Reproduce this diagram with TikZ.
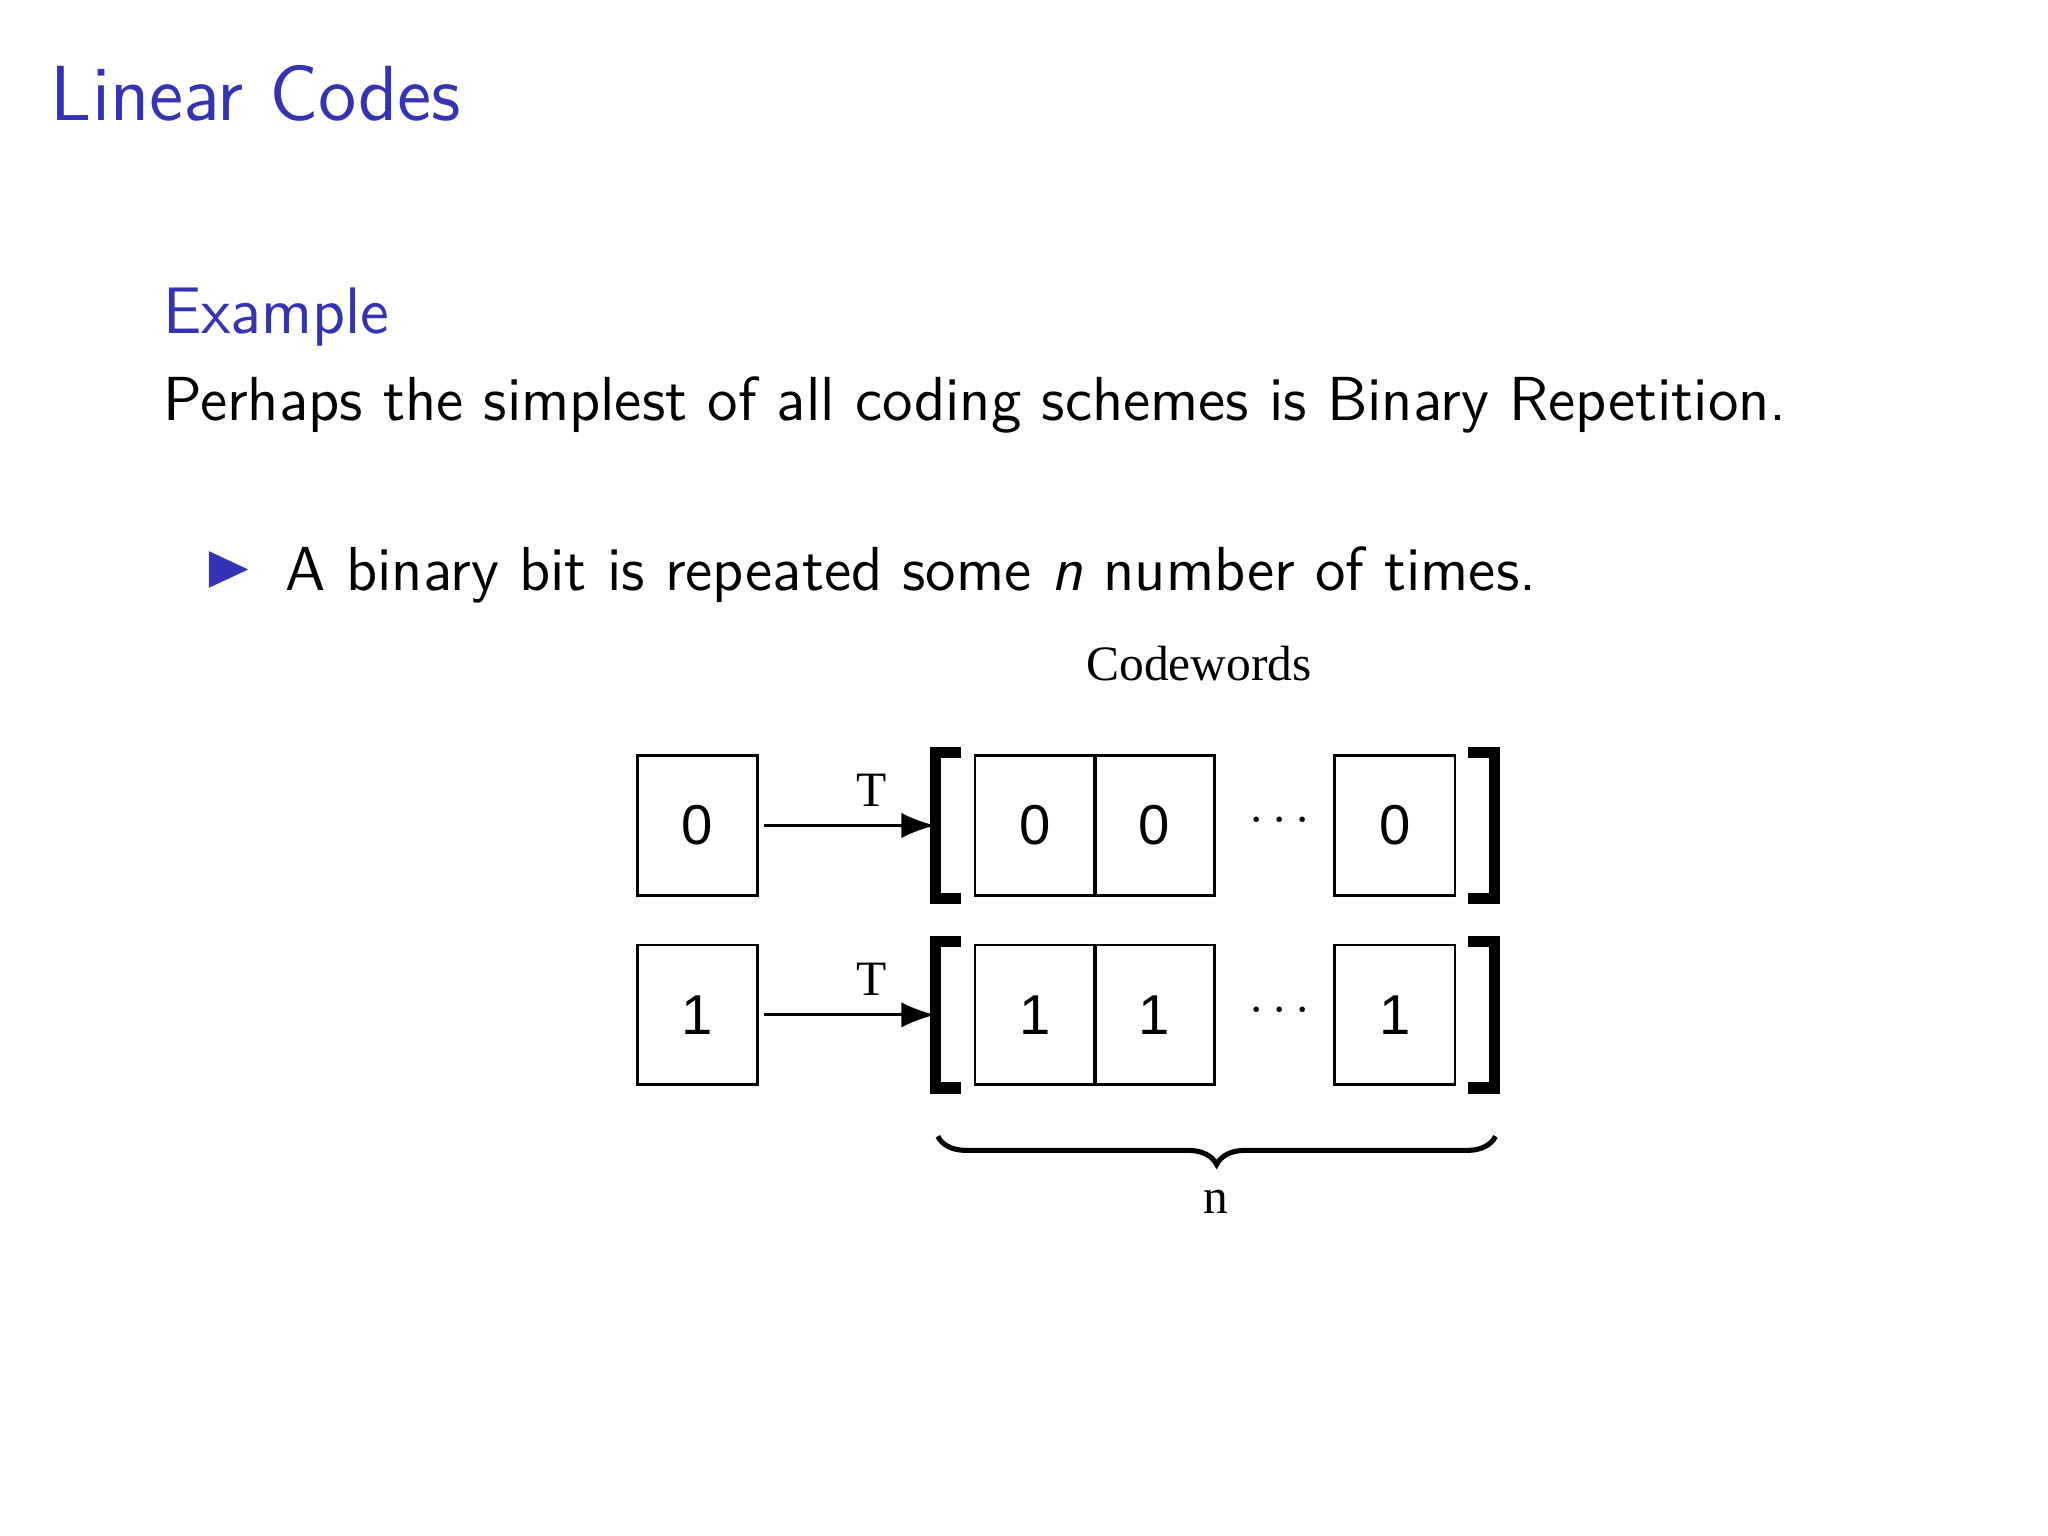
\documentclass[tikz,border=0pt]{standalone}
\usepackage{fontspec}
\usetikzlibrary{arrows.meta,decorations.pathreplacing}
\newfontfamily\serifTNR{Liberation Serif}
\newfontfamily\sansA{Liberation Sans}
\definecolor{bblue}{RGB}{51,51,179}
\tikzset{
 bit/.style={draw,line width=0.5pt,minimum width=92*0.008163cm,minimum height=107*0.008163cm,inner sep=0pt,font=\sansA\fontsize{10}{12}\selectfont},
 lbl/.style={font=\serifTNR\fontsize{8.8}{11}\selectfont,inner sep=0pt},
 brk/.style={line width=2pt},
 txt/.style={anchor=base west,inner sep=0pt,font=\sffamily\fontsize{11.06}{13}\selectfont}
}
\begin{document}
\begin{tikzpicture}[x=0.008163cm,y=-0.008163cm]
\useasboundingbox (0,0) rectangle (1568,1176);
\node[anchor=base west,inner sep=0pt,text=bblue,font=\sffamily\fontsize{13.9}{17}\selectfont] (title) at (38,92) {Linear Codes};
\node[txt,text=bblue,font=\sffamily\fontsize{11.7}{14}\selectfont] (ex) at (124,255) {Example};
\node[txt] (p) at (124,322) {Perhaps the simplest of all coding schemes is Binary Repetition.};
\fill[bblue] (160,422) -- (190,436) -- (160,450) -- cycle;
\node[txt] (b) at (218,452) {A binary bit is repeated some \textit{n} number of times.};
\node[lbl] (cw) at (918,508) {Codewords};
\foreach \r/\y/\d in {a/632/0,b/777/1}{
 \node[bit] (s\r) at (534,\y) {\d};
 \node[bit] (c1\r) at (792.5,\y) {\d};
 \node[bit] (c2\r) at (884,\y) {\d};
 \node[bit] (c3\r) at (1068,\y) {\d};
 \node[lbl] (dots\r) at (980,\y-3) {$\cdots$};
 \coordinate (la\r) at (716,\y-56);
 \coordinate (lb\r) at (716,\y+56);
 \coordinate (ra\r) at (1144,\y-56);
 \coordinate (rb\r) at (1144,\y+56);
 \draw[brk] ([xshift=20*0.008163cm]la\r) -- (la\r) -- (lb\r) -- ([xshift=20*0.008163cm]lb\r);
 \draw[brk] ([xshift=-20*0.008163cm]ra\r) -- (ra\r) -- (rb\r) -- ([xshift=-20*0.008163cm]rb\r);
 \draw[-{Latex[length=6pt,width=4.5pt]},line width=0.5pt] ([xshift=4*0.008163cm]s\r.east) -- (la\r |- s\r.east);
 \node[lbl] (T\r) at (667,\y-27) {T};
}
\coordinate (bl) at (718,870);
\coordinate (br) at (1145,870);
\draw[decorate,decoration={brace,mirror,amplitude=5pt},line width=0.9pt] (bl) -- (br);
\node[lbl] (n) at (931,920) {n};
\end{tikzpicture}
\end{document}
